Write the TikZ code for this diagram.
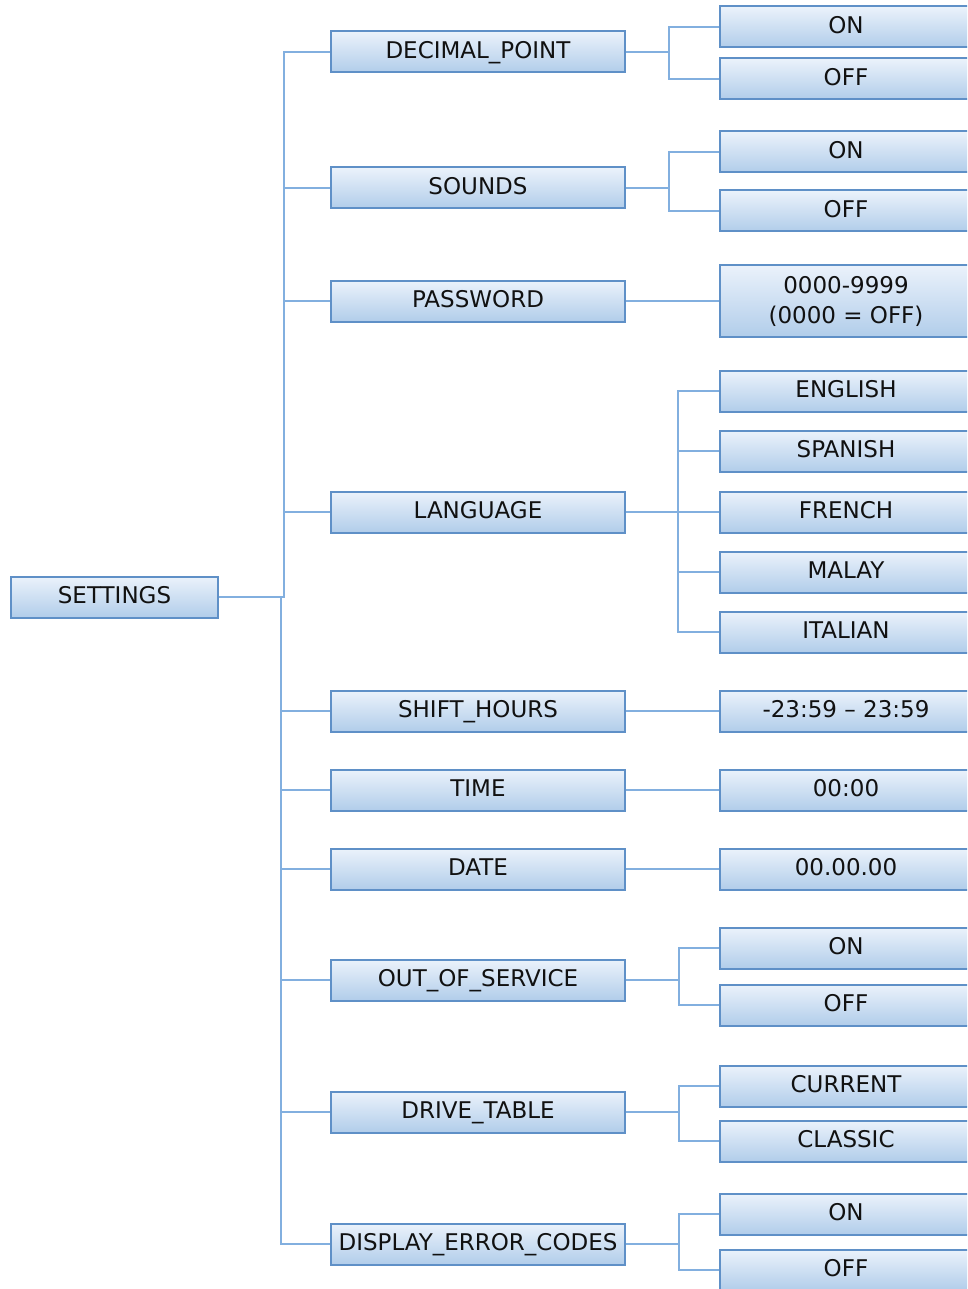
\documentclass[tikz,border=0pt]{standalone}
\usepackage{fontspec}
\setmainfont{DejaVu Sans}
\definecolor{boxtop}{HTML}{EBF2FB}
\definecolor{boxbot}{HTML}{B1CDEA}
\definecolor{boxline}{HTML}{5F90C7}
\definecolor{conline}{HTML}{82AFDF}
\definecolor{txt}{HTML}{111111}
\tikzset{
  boxbase/.style={draw=boxline, line width=2pt, top color=boxtop, bottom color=boxbot,
    minimum height=41pt, inner sep=0pt, text=txt, font=\fontsize{23}{30}\selectfont,
    align=center},
  box/.style={boxbase, text height=18pt, text depth=4.4pt},
  rootbox/.style={box, minimum width=207pt},
  midbox/.style={box, minimum width=294pt},
  leafbox/.style={box, minimum width=252pt},
  tallleaf/.style={boxbase, minimum width=252pt, minimum height=72pt},
  con/.style={draw=conline, line width=2.4pt}
}
\begin{document}
\begin{tikzpicture}[x=1pt,y=-1pt]
\useasboundingbox (0,0) rectangle (967,1289);
\clip (0,0) rectangle (967,1289);
% root
\node[rootbox] (set) at (114.5,597) {SETTINGS};
% middle
\node[midbox] (dp) at (478,52) {DECIMAL\_POINT};
\node[midbox] (snd) at (478,188) {SOUNDS};
\node[midbox] (pw) at (478,301) {PASSWORD};
\node[midbox] (lang) at (478,512) {LANGUAGE};
\node[midbox] (sh) at (478,711) {SHIFT\_HOURS};
\node[midbox] (tm) at (478,790) {TIME};
\node[midbox] (dt) at (478,869) {DATE};
\node[midbox] (oos) at (478,980) {OUT\_OF\_SERVICE};
\node[midbox] (drv) at (478,1112) {DRIVE\_TABLE};
\node[midbox] (dec) at (478,1244) {DISPLAY\_ERROR\_CODES};
% leaves
\node[leafbox] (dpon) at (846,27) {ON};
\node[leafbox] (dpoff) at (846,79) {OFF};
\node[leafbox] (snon) at (846,152) {ON};
\node[leafbox] (snoff) at (846,211) {OFF};
\node[tallleaf] (pwv) at (846,301) {0000-9999\\(0000 = OFF)};
\node[leafbox] (en) at (846,391) {ENGLISH};
\node[leafbox] (es) at (846,451) {SPANISH};
\node[leafbox] (fr) at (846,512) {FRENCH};
\node[leafbox] (ms) at (846,572) {MALAY};
\node[leafbox] (it) at (846,632) {ITALIAN};
\node[leafbox] (shv) at (846,711) {-23:59 – 23:59};
\node[leafbox] (tmv) at (846,790) {00:00};
\node[leafbox] (dtv) at (846,869) {00.00.00};
\node[leafbox] (ooson) at (846,948) {ON};
\node[leafbox] (oosoff) at (846,1005) {OFF};
\node[leafbox] (cur) at (846,1086) {CURRENT};
\node[leafbox] (cla) at (846,1141) {CLASSIC};
\node[leafbox] (decon) at (846,1214) {ON};
\node[leafbox] (decoff) at (846,1270) {OFF};
% root connectors
\foreach \n in {dp,snd,pw,lang}{\draw[con] (set.east) -- ++(65,0) |- (\n.west);}
\foreach \n in {sh,tm,dt,oos,drv,dec}{\draw[con] (set.east) -- ++(62,0) |- (\n.west);}
% middle connectors
\foreach \n in {dpon,dpoff}{\draw[con] (dp.east) -- ++(43,0) |- (\n.west);}
\foreach \n in {snon,snoff}{\draw[con] (snd.east) -- ++(43,0) |- (\n.west);}
\draw[con] (pw.east) -- (pwv.west);
\foreach \n in {en,es,fr,ms,it}{\draw[con] (lang.east) -- ++(52,0) |- (\n.west);}
\draw[con] (sh.east) -- (shv.west);
\draw[con] (tm.east) -- (tmv.west);
\draw[con] (dt.east) -- (dtv.west);
\foreach \n in {ooson,oosoff}{\draw[con] (oos.east) -- ++(53,0) |- (\n.west);}
\foreach \n in {cur,cla}{\draw[con] (drv.east) -- ++(53,0) |- (\n.west);}
\foreach \n in {decon,decoff}{\draw[con] (dec.east) -- ++(53,0) |- (\n.west);}
\end{tikzpicture}
\end{document}
